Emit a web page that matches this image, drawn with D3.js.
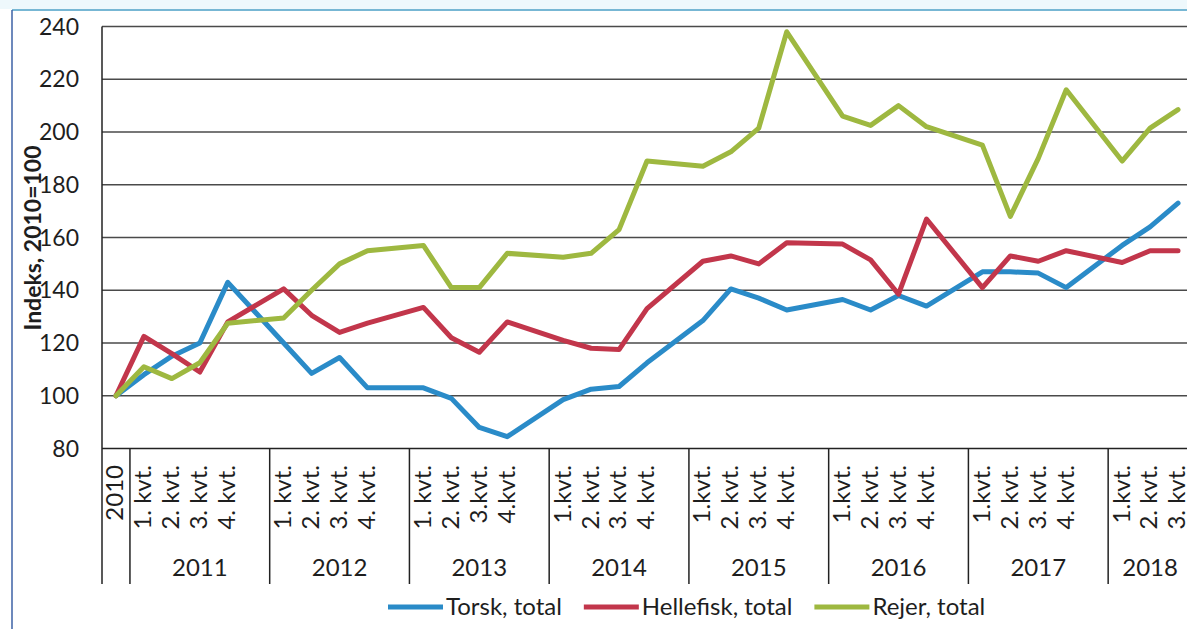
<!DOCTYPE html>
<html>
<head>
<meta charset="utf-8">
<script src="https://d3js.org/d3.v7.min.js"></script>
<style>
  body { margin: 0; background: #fff; }
  svg { display: block; font-family: Lato, "Open Sans", sans-serif; }
  .lbl { fill: #1e1e1e; font-size: 23px; }
  .big { font-size: 24px; }
</style>
</head>
<body>
<svg id="chart" width="1187" height="629"></svg>
<script>
// base year first, then quarters for each year (blank slot between years)
var baseLabel = "2010";
var years = ["2011", "2012", "2013", "2014", "2015", "2016", "2017", "2018"];
var kvtLabels = [
  ["1. kvt.", "2. kvt.", "3. kvt.", "4. kvt."],
  ["1. kvt.", "2. kvt.", "3. kvt.", "4. kvt."],
  ["1. kvt.", "2. kvt.", "3.kvt.", "4.kvt."],
  ["1.kvt.", "2. kvt.", "3. kvt.", "4. kvt."],
  ["1.kvt.", "2. kvt.", "3. kvt.", "4. kvt."],
  ["1.kvt.", "2. kvt.", "3. kvt.", "4. kvt."],
  ["1.kvt.", "2. kvt.", "3. kvt.", "4. kvt."],
  ["1.kvt.", "2. kvt.", "3. kvt."]
];

var torsk = [100,
  108, 115, 120, 143,
  120, 108.5, 114.5, 103,
  103, 99, 88, 84.5,
  98.5, 102.5, 103.5, 112.5,
  128.5, 140.5, 137, 132.5,
  136.5, 132.5, 138, 134,
  147, 147, 146.5, 141,
  157, 164, 173];
var hellefisk = [100,
  122.5, 116, 109, 128,
  140.5, 130.5, 124, 127.5,
  133.5, 122, 116.5, 128,
  121, 118, 117.5, 133,
  151, 153, 150, 158,
  157.5, 151.5, 138.5, 167,
  141, 153, 151, 155,
  150.5, 155, 155];
var rejer = [100,
  111, 106.5, 112.5, 127.5,
  129.5, 140, 150, 155,
  157, 141, 141, 154,
  152.5, 154, 163, 189,
  187, 192.5, 201.5, 238,
  206, 202.5, 210, 202,
  195, 168, 190, 216,
  189, 201.5, 208.5];

var seriesNames = ["Torsk, total", "Hellefisk, total", "Rejer, total"];
var seriesColors = ["#2a8bc8", "#c2364b", "#9eb840"];
var yTicks = [80, 100, 120, 140, 160, 180, 200, 220, 240];
var yTitle = "Indeks, 2010=100";

var svg = d3.select("#chart");
var plotL = 102, plotR = 1192, plotT = 26.5, plotB = 448.5, axisB = 584;

// build the slots of the category axis
var slots = [{key: "s0", label: baseLabel, idx: 0, year: null}];
var n = 1;
years.forEach(function(yr, g) {
  kvtLabels[g].forEach(function(q) {
    slots.push({key: "s" + slots.length, label: q, idx: n++, year: yr});
  });
  if (g < years.length - 1) slots.push({key: "s" + slots.length, label: "", idx: null, year: yr});
});

var x = d3.scaleBand().domain(slots.map(function(d) { return d.key; })).range([plotL, plotR]);
var y = d3.scaleLinear().domain([80, 240]).range([plotB, plotT]);
var bw = x.bandwidth();

// scan frame
svg.append("rect").attr("x", 0).attr("y", 0).attr("width", 1187).attr("height", 9).attr("fill", "#eef8fc");
svg.append("line").attr("x1", 12).attr("x2", 1187).attr("y1", 10).attr("y2", 10)
  .attr("stroke", "#4a9fc6").attr("stroke-width", 1.5);
svg.append("line").attr("x1", 12).attr("x2", 12).attr("y1", 10).attr("y2", 629)
  .attr("stroke", "#3d62a6").attr("stroke-width", 1.5);

// gridlines
svg.append("g").selectAll("line").data(yTicks.slice(1)).enter().append("line")
  .attr("x1", plotL).attr("x2", plotR)
  .attr("y1", function(d) { return y(d); }).attr("y2", function(d) { return y(d); })
  .attr("stroke", "#4a4a4a").attr("stroke-width", 1.4);

// axes lines
svg.append("line").attr("x1", plotL).attr("x2", plotR).attr("y1", plotB).attr("y2", plotB)
  .attr("stroke", "#222").attr("stroke-width", 1.5);
svg.append("line").attr("x1", plotL).attr("x2", plotL).attr("y1", plotT).attr("y2", axisB)
  .attr("stroke", "#222").attr("stroke-width", 1.5);

// y tick labels
svg.append("g").selectAll("text").data(yTicks).enter().append("text")
  .attr("class", "lbl")
  .attr("x", 79).attr("y", function(d) { return y(d); }).attr("dy", "0.35em")
  .attr("text-anchor", "end").text(function(d) { return d; });

svg.append("text").attr("class", "lbl")
  .attr("transform", "translate(41,238) rotate(-90)")
  .attr("text-anchor", "middle").attr("font-weight", "bold")
  .text(yTitle);

// group boundaries: start of each year group
var groupStarts = years.map(function(yr) {
  return slots.filter(function(s) { return s.year === yr; });
});
svg.append("g").selectAll("line").data(groupStarts).enter().append("line")
  .attr("x1", function(g) { return x(g[0].key); }).attr("x2", function(g) { return x(g[0].key); })
  .attr("y1", plotB).attr("y2", axisB)
  .attr("stroke", "#222").attr("stroke-width", 1.5);

// quarter labels (rotated)
svg.append("g").selectAll("text").data(slots.filter(function(s) { return s.label !== ""; })).enter().append("text")
  .attr("class", "lbl big")
  .attr("transform", function(s) { return "translate(" + (x(s.key) + bw / 2 - 1) + ",465) rotate(-90)"; })
  .attr("dy", "0.35em").attr("text-anchor", "end")
  .text(function(s) { return s.label; });

// year labels
svg.append("g").selectAll("text").data(groupStarts).enter().append("text")
  .attr("class", "lbl big")
  .attr("x", function(g) { return (x(g[0].key) + x(g[g.length - 1].key) + bw) / 2; })
  .attr("y", 576).attr("text-anchor", "middle")
  .text(function(g) { return g[0].year; });

// series lines
var dataSlots = slots.filter(function(s) { return s.idx !== null; });
var line = d3.line()
  .x(function(d) { return x(d.key) + bw / 2; })
  .y(function(d) { return y(d.v); });

[torsk, hellefisk, rejer].forEach(function(vals, i) {
  var pts = dataSlots.map(function(s) { return {key: s.key, v: vals[s.idx]}; });
  svg.append("path").datum(pts)
    .attr("d", line).attr("fill", "none")
    .attr("stroke", seriesColors[i]).attr("stroke-width", 5)
    .attr("stroke-linejoin", "round").attr("stroke-linecap", "round");
});

// legend
var lx = 388, ly = 607;
seriesNames.forEach(function(name, i) {
  svg.append("line").attr("x1", lx).attr("x2", lx + 55).attr("y1", ly).attr("y2", ly)
    .attr("stroke", seriesColors[i]).attr("stroke-width", 5);
  var t = svg.append("text").attr("class", "lbl big")
    .attr("x", lx + 58).attr("y", ly).attr("dy", "0.35em").text(name);
  lx = lx + 58 + t.node().getComputedTextLength() + 22;
});
</script>
</body>
</html>
